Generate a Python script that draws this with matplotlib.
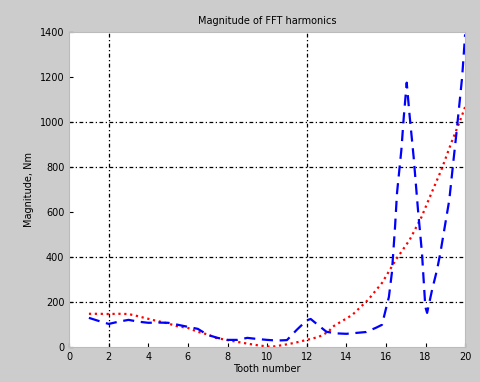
import matplotlib
matplotlib.use("Agg")
import matplotlib.pyplot as plt

# Blue dashed curve
blue_x = [1, 1.5, 2, 2.5, 3, 3.5, 4, 4.5, 5, 5.5, 6, 6.5, 7, 7.5, 8, 8.5, 9, 9.5, 10,
          10.5, 11, 11.5, 12, 12.2, 12.6, 13, 13.5, 14, 14.5, 15, 15.5, 15.8, 16.15, 16.3,
          16.46, 16.56, 16.78, 16.9, 17.05, 17.18, 17.4, 17.62, 17.82, 17.99, 18.08, 18.33,
          18.58, 18.75, 18.92, 19.2, 19.43, 19.54, 19.7, 19.85, 20]
blue_y = [129, 115, 102, 112, 120, 112, 107, 108, 107, 98, 89, 80, 53, 40, 31, 31, 40, 35, 31,
          28, 30, 76, 118, 124, 95, 67, 60, 58, 62, 66, 85, 98, 222, 329,
          533, 684, 876, 1020, 1175, 1044, 844, 609, 418, 178, 151, 253,
          342, 418, 507, 653, 844, 933, 1070, 1200, 1390]

# Red dotted curve
red_x = [1, 1.5, 2, 2.5, 3, 3.4, 3.8, 4.4, 5, 5.4, 6, 6.5, 7, 7.4, 8, 8.5, 9.1, 9.6, 10.2,
         10.8, 11.4, 12, 12.6, 13.1, 13.3, 14.3, 15.1, 15.8, 16.5, 17.2, 17.8, 18.3,
         18.8, 19.3, 19.7, 20]
red_y = [147, 147, 146, 147, 146, 138, 129, 116, 104, 93, 84, 67, 55, 40, 30, 22, 13, 6, 0,
         8, 18, 31, 44, 67, 89, 142, 209, 284, 387, 476, 578, 684,
         787, 907, 996, 1067]

x_ticks = [0, 2, 4, 6, 8, 10, 12, 14, 16, 18, 20]
y_ticks = [0, 200, 400, 600, 800, 1000, 1200, 1400]
grid_x = [2, 12]
grid_y = [200, 400, 800, 1000]

title = "Magnitude of FFT harmonics"
xlabel = "Tooth number"
ylabel = "Magnitude, Nm"

fig = plt.figure(figsize=(4.8, 3.82), dpi=100, facecolor="#cccccc")
ax = fig.add_axes([0.144, 0.092, 0.825, 0.824])
ax.set_facecolor("white")

for gx in grid_x:
    ax.axvline(gx, color="black", linewidth=0.9, dashes=(3, 2, 1, 2), zorder=1)
for gy in grid_y:
    ax.axhline(gy, color="black", linewidth=0.9, dashes=(3, 2, 1, 2), zorder=1)

ax.plot(blue_x, blue_y, color="blue", linestyle="--", linewidth=1.6, dashes=(5, 3), zorder=3)
ax.plot(red_x, red_y, color="red", linestyle=":", linewidth=1.6, zorder=2)

ax.set_xlim(0, 20)
ax.set_ylim(0, 1400)
ax.set_xticks(x_ticks)
ax.set_yticks(y_ticks)
ax.tick_params(direction="in", labelsize=7, length=3, colors="black")
for s in ax.spines.values():
    s.set_color("#bbbbbb")
    s.set_linewidth(0.8)

ax.set_title(title, fontsize=7, pad=6)
ax.set_xlabel(xlabel, fontsize=7, labelpad=2)
ax.set_ylabel(ylabel, fontsize=7, labelpad=4)

fig.savefig("out.png", dpi=100, facecolor=fig.get_facecolor())
